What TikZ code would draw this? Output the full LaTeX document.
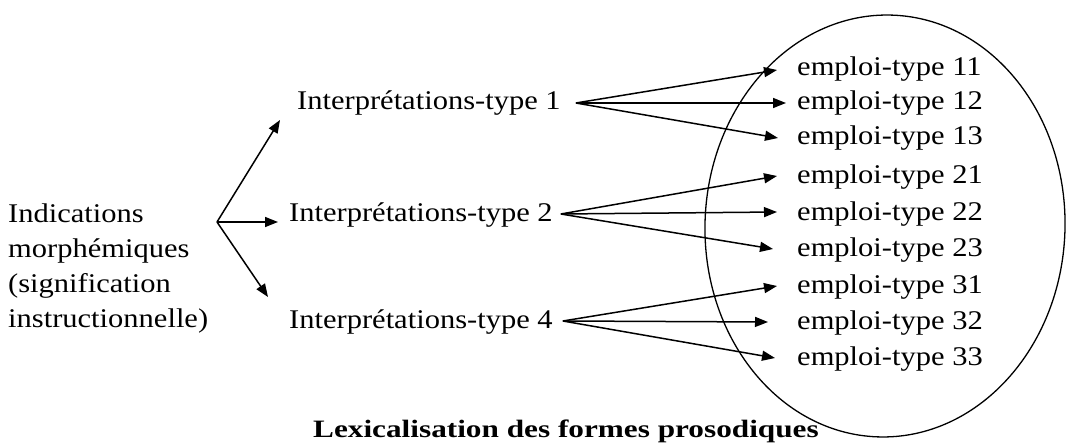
\documentclass[tikz,border=0pt]{standalone}
\usepackage{fontspec}
\setmainfont{Liberation Serif}[FakeStretch=1.13]
\newfontfamily\lexfont{Liberation Serif}[FakeStretch=1.25]
\usetikzlibrary{arrows.meta,calc}
\begin{document}
\begin{tikzpicture}[x=1pt,y=-1pt,
  txt/.style={inner sep=0pt, anchor=base west, font=\fontsize{27}{35}\selectfont},
  arr/.style={line width=1.5pt, -{Triangle[length=13pt,width=10pt]}},
  ell/.style={line width=1.3pt}]
\useasboundingbox (0,0) rectangle (1066,446);
\draw[ell, rotate around={-2:(885,226)}] (885,226) ellipse [x radius=180, y radius=211];
% left block
\node[inner sep=0pt, anchor=north west, align=left, font=\fontsize{27}{35}\selectfont] (ind) at (8,203.6)
  {Indications\\morphémiques\\(signification\\instructionnelle)};
\coordinate (fork) at (217,222);
% interpretations
\node[txt] (I1) at (297,110) {Interprétations-type 1};
\node[txt] (I2) at (289,222) {Interprétations-type 2};
\node[txt] (I4) at (289,329) {Interprétations-type 4};
% emplois
\node[txt] (e11) at (797,76) {emploi-type 11};
\node[txt] (e12) at (797,110) {emploi-type 12};
\node[txt] (e13) at (797,145) {emploi-type 13};
\node[txt] (e21) at (797,184) {emploi-type 21};
\node[txt] (e22) at (797,221) {emploi-type 22};
\node[txt] (e23) at (797,257) {emploi-type 23};
\node[txt] (e31) at (797,294) {emploi-type 31};
\node[txt] (e32) at (797,330) {emploi-type 32};
\node[txt] (e33) at (797,366) {emploi-type 33};
% bottom label
\node[inner sep=0pt, anchor=base west, font=\fontsize{25}{30}\selectfont\lexfont\bfseries] (lex) at (313,437)
  {Lexicalisation des formes prosodiques};
% fork arrows
\draw[arr] (fork) -- ($(I1.base west)+(-17,10)$);
\draw[arr] (fork) -- ($(I2.base west)+(-11,0)$);
\draw[arr] (fork) -- ($(I4.base west)+(-21,-32)$);
% fans
\coordinate (s1) at ($(I1.base east)+(15,-7)$);
\coordinate (s2) at ($(I2.base east)+(8,-8)$);
\coordinate (s4) at ($(I4.base east)+(10,-8)$);
\draw[arr] (s1) -- ($(e11.base west)+(-20,-6)$);
\draw[arr] (s1) -- ($(e12.base west)+(-11,-7)$);
\draw[arr] (s1) -- ($(e13.base west)+(-19,-7)$);
\draw[arr] (s2) -- ($(e21.base west)+(-20,-8)$);
\draw[arr] (s2) -- ($(e22.base west)+(-20,-9)$);
\draw[arr] (s2) -- ($(e23.base west)+(-24,-8)$);
\draw[arr] (s4) -- ($(e31.base west)+(-20,-8)$);
\draw[arr] (s4) -- ($(e32.base west)+(-29,-8)$);
\draw[arr] (s4) -- ($(e33.base west)+(-22,-8)$);
\end{tikzpicture}
\end{document}
